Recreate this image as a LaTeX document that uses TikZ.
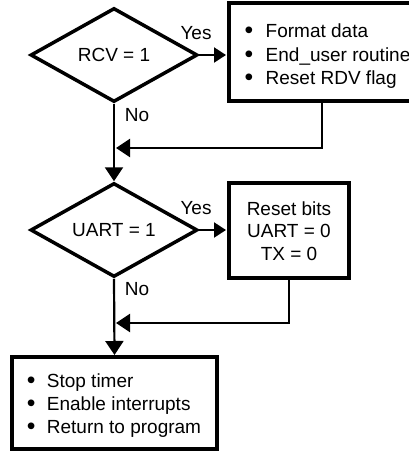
\documentclass[tikz,border=0pt]{standalone}
\usepackage{fontspec}
\setmainfont{Liberation Sans}
\usetikzlibrary{shapes.geometric,arrows.meta}
% a slightly enlarged list bullet
\newcommand{\listdot}[1]{\makebox[#1][l]{\raisebox{-0.6pt}{\scalebox{1.3}{•}}}}
\begin{document}
\begin{tikzpicture}[x=1pt,y=-1pt,
  every node/.style={font=\fontsize{19}{23.5}\selectfont},
  decision/.style={shape=diamond,draw,line width=3.5pt,minimum width=167pt,minimum height=94pt,inner sep=0pt,aspect=1.78},
  stepbox/.style={draw,line width=4pt,inner sep=0pt},
  plain/.style={inner sep=0pt},
  flow/.style={line width=2.2pt,-{Triangle[length=14pt,width=18pt]}},
  yesflow/.style={line width=2.2pt,-{Triangle[length=12pt,width=15pt]}}
]
\useasboundingbox (0,0) rectangle (409,451);
\clip (0,0) rectangle (409,451);

% decisions
\node[decision] (d1) at (114,55) {RCV = 1};
\node[decision] (d2) at (114,230) {UART = 1};

% process boxes
\node[stepbox,minimum width=186pt,minimum height=98pt] (b1) at (322,52) {};
\node[plain,anchor=west,align=left] (t1) at (244.5,56.5)
  {\listdot{21pt}Format data\\\listdot{21pt}End\_user routine\\\listdot{21pt}Reset RDV flag};

\node[stepbox,minimum width=120pt,minimum height=95pt] (b2) at (289,230.5) {};
\node[plain,align=center,font=\fontsize{19}{22.5}\selectfont] (t2) at (289,231) {Reset bits\\UART = 0\\TX = 0};

\node[stepbox,minimum width=205pt,minimum height=92pt] (b3) at (114.5,403) {};
\node[plain,anchor=west,align=left,font=\fontsize{19}{23}\selectfont] (t3) at (26.7,405.5)
  {\listdot{20pt}Stop timer\\\listdot{20pt}Enable interrupts\\\listdot{20pt}Return to program};

% merge points on the main line
\coordinate (m1) at (116,148);
\coordinate (m2) at (116,323);

% branch labels
\node[plain] (y1) at (196,33) {Yes};
\node[plain] (n1) at (137,115) {No};
\node[plain] (y2) at (196,208) {Yes};
\node[plain] (n2) at (137,289) {No};

% connectors
\draw[yesflow] (d1.east) -- ([xshift=-1pt]d1.east -| b1.west);
\draw[flow] (b1.south) |- (m1);
\draw[flow] (d1.south) -- (d2.north);
\draw[yesflow] (d2.east) -- ([xshift=-1pt]d2.east -| b2.west);
\draw[flow] (b2.south) |- (m2);
\draw[flow] (d2.south) -- (b3.north);
\end{tikzpicture}
\end{document}
